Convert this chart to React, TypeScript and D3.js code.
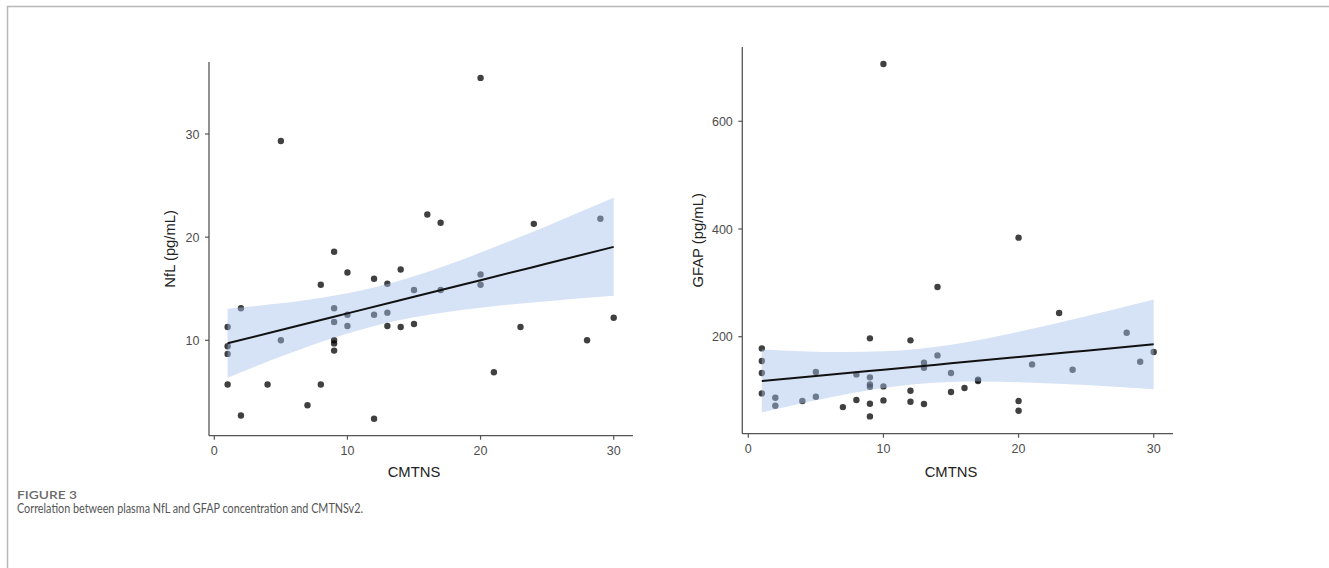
import React from "react";
import * as d3 from "d3";

// ---------- DATA ----------
const nflX = [1, 1, 1, 1, 2, 2, 4, 5, 5, 7, 8, 8, 9, 9, 9, 9, 9, 9, 10, 10, 10, 12, 12, 12, 13, 13, 13, 14, 14, 15, 15, 16, 17, 17, 20, 20, 20, 21, 23, 24, 28, 29, 30];
const nflY = [11.29, 9.42, 8.68, 5.71, 13.1, 2.71, 5.71, 10.0, 29.32, 3.71, 15.39, 5.71, 18.58, 13.1, 11.77, 10.0, 9.7, 9.0, 16.58, 12.48, 11.39, 15.97, 12.48, 2.39, 15.48, 12.68, 11.39, 16.87, 11.29, 14.87, 11.58, 22.2, 14.87, 21.39, 16.39, 15.39, 35.44, 6.9, 11.29, 21.29, 10.0, 21.78, 12.19];

const gfapX = [1, 1, 1, 1, 2, 2, 4, 5, 5, 7, 8, 8, 9, 9, 9, 9, 9, 9, 10, 10, 10, 12, 12, 12, 13, 13, 13, 14, 14, 15, 15, 16, 17, 17, 20, 20, 20, 21, 23, 24, 28, 29, 30];
const gfapY = [178.3, 154.8, 132.5, 94.7, 86.7, 71.8, 80.5, 134.4, 88.5, 69.3, 130.0, 82.4, 196.9, 124.5, 111.5, 107.1, 75.5, 52.0, 706.5, 107.7, 81.7, 193.2, 99.7, 79.3, 151.7, 142.4, 74.9, 292.3, 165.3, 132.5, 97.2, 104.6, 120.1, 117.6, 383.9, 80.5, 62.5, 148.6, 244.0, 138.7, 207.4, 153.6, 171.5];

// fitted line and 95% confidence band
const smoothX = [1, 5, 10, 15, 20, 25, 30];
const nflFit = [9.71, 11.0, 12.61, 14.22, 15.83, 17.44, 19.06];
const nflLo = [6.37, 8.42, 10.66, 12.24, 13.16, 13.79, 14.31];
const nflHi = [13.05, 13.58, 14.56, 16.2, 18.5, 21.09, 23.81];
const gfapFit = [117.6, 127.0, 138.8, 150.5, 162.3, 174.1, 185.8];
const gfapLo = [59.1, 81.8, 104.7, 115.8, 115.6, 110.2, 102.6];
const gfapHi = [176.1, 172.2, 172.9, 185.2, 209.0, 238.0, 269.0];

const xTicks = [0, 10, 20, 30];
const nflTicks = [10, 20, 30];
const gfapTicks = [200, 400, 600];
const xTitle = "CMTNS";
const nflTitle = "NfL (pg/mL)";
const gfapTitle = "GFAP (pg/mL)";
const figLabel = "FIGURE 3";
const caption = "Correlation between plasma NfL and GFAP concentration and CMTNSv2.";

// ---------- LAYOUT ----------
const W = 1329;
const H = 568;
const FONT = "'Liberation Sans', Arial, Helvetica, sans-serif";

type PanelProps = {
  xs: number[];
  ys: number[];
  fit: number[];
  lo: number[];
  hi: number[];
  yTicks: number[];
  title: string;
  xRange: [number, number];
  yDomain: [number, number];
  yRange: [number, number];
  axisX: number;
  axisTop: number;
  axisBottom: number;
  xEnd: number;
  titleX: number;
};

function Panel(p: PanelProps) {
  const x = d3.scaleLinear().domain([0, 30]).range(p.xRange);
  const y = d3.scaleLinear().domain(p.yDomain).range(p.yRange);
  const band = d3
    .area<number>()
    .x((d) => x(d))
    .y0((_, i) => y(p.lo[i]))
    .y1((_, i) => y(p.hi[i]))
    .curve(d3.curveNatural);
  const line = d3
    .line<number>()
    .x((d) => x(d))
    .y((_, i) => y(p.fit[i]))
    .curve(d3.curveNatural);
  const midY = (p.axisTop + p.axisBottom) / 2;
  const midX = (p.xRange[0] + p.xRange[1]) / 2;
  const axisColor = "#555";
  return (
    <g>
      {/* points */}
      {p.xs.map((xv, i) => (
        <circle key={i} cx={x(xv)} cy={y(p.ys[i])} r={3.2} fill="#000" fillOpacity={0.75} />
      ))}
      {/* confidence band over points */}
      <path d={band(smoothX) || ""} fill="rgb(163,190,232)" fillOpacity={0.45} />
      <path d={line(smoothX) || ""} fill="none" stroke="#111" strokeWidth={2} />
      {/* axes */}
      <line x1={p.axisX} x2={p.axisX} y1={p.axisTop} y2={p.axisBottom} stroke={axisColor} strokeWidth={1.3} />
      <line x1={p.axisX} x2={p.xEnd} y1={p.axisBottom} y2={p.axisBottom} stroke={axisColor} strokeWidth={1.3} />
      {p.yTicks.map((t) => (
        <g key={"y" + t}>
          <line x1={p.axisX - 4} x2={p.axisX} y1={y(t)} y2={y(t)} stroke={axisColor} strokeWidth={1.2} />
          <text x={p.axisX - 9.5} y={y(t)} dy="0.36em" textAnchor="end" fontSize={12.5} fill="#4d4d4d" fontFamily={FONT}>
            {t}
          </text>
        </g>
      ))}
      {xTicks.map((t) => (
        <g key={"x" + t}>
          <line x1={x(t)} x2={x(t)} y1={p.axisBottom} y2={p.axisBottom + 4} stroke={axisColor} strokeWidth={1.2} />
          <text x={x(t)} y={p.axisBottom + 19} textAnchor="middle" fontSize={12.5} fill="#4d4d4d" fontFamily={FONT}>
            {t}
          </text>
        </g>
      ))}
      <text x={midX} y={477} textAnchor="middle" fontSize={14.8} fill="#222" fontFamily={FONT}>
        {xTitle}
      </text>
      <text
        transform={`translate(${p.titleX},${midY}) rotate(-90)`}
        textAnchor="middle"
        fontSize={14.8}
        fill="#222"
        fontFamily={FONT}
      >
        {p.title}
      </text>
    </g>
  );
}

export default function App() {
  React.useEffect(() => {
    document.body.style.margin = "0";
  }, []);
  return (
    <div style={{ position: "absolute", left: 0, top: 0 }}>
      <svg width={W} height={H} style={{ display: "block", background: "#fff" }}>
        <rect x={0} y={0} width={W} height={H} fill="#fff" />
        {/* frame */}
        <path d={`M7.5,${H} L7.5,6.5 L${W},6.5`} fill="none" stroke="#b8b8b8" strokeWidth={1.5} />
        <Panel
          xs={nflX}
          ys={nflY}
          fit={nflFit}
          lo={nflLo}
          hi={nflHi}
          yTicks={nflTicks}
          title={nflTitle}
          xRange={[214.3, 613.7]}
          yDomain={[10, 30]}
          yRange={[340.3, 134]}
          axisX={209}
          axisTop={62}
          axisBottom={435.7}
          xEnd={633}
          titleX={175}
        />
        <Panel
          xs={gfapX}
          ys={gfapY}
          fit={gfapFit}
          lo={gfapLo}
          hi={gfapHi}
          yTicks={gfapTicks}
          title={gfapTitle}
          xRange={[748.3, 1153.7]}
          yDomain={[200, 600]}
          yRange={[336.7, 121.3]}
          axisX={742.3}
          axisTop={47}
          axisBottom={433.7}
          xEnd={1173}
          titleX={703}
        />
        <text x={17} y={498.7} fontSize={11.5} fontWeight={600} fill="#6a6a6a" fontFamily="Lato, 'Open Sans', sans-serif" textLength={60} lengthAdjust="spacingAndGlyphs">
          {figLabel}
        </text>
        <text x={17} y={513.3} fontSize={13.4} fill="#555" fontFamily="Lato, 'Open Sans', sans-serif" textLength={346} lengthAdjust="spacingAndGlyphs">
          {caption}
        </text>
      </svg>
    </div>
  );
}
